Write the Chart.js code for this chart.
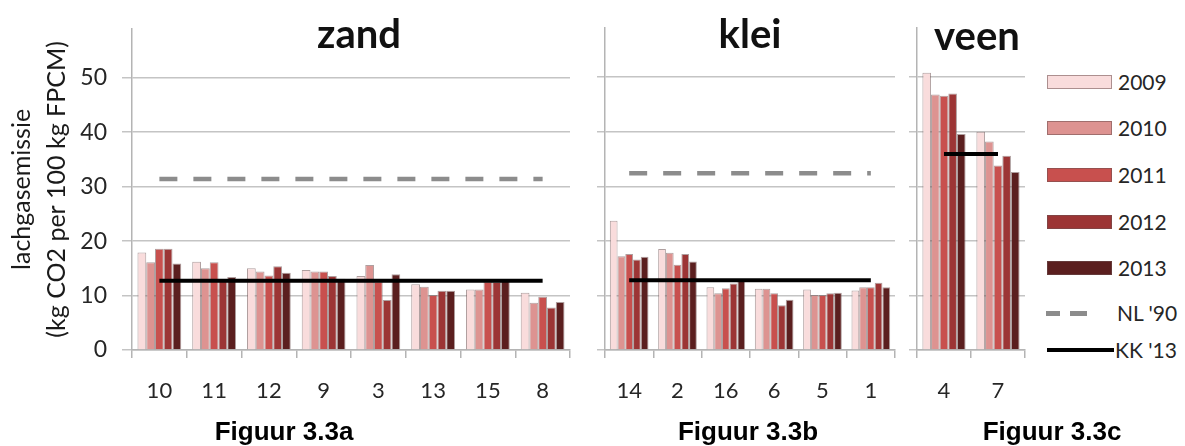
<!DOCTYPE html>
<html>
<head>
<meta charset="utf-8">
<script src="https://cdn.jsdelivr.net/npm/chart.js@4/dist/chart.umd.min.js"></script>
<style>
  html, body { margin: 0; padding: 0; background: #fff; }
  #wrap { position: relative; width: 1185px; height: 446px; overflow: hidden; font-family: Lato, "Open Sans", sans-serif; }
  canvas { position: absolute; top: 0; }
  .ttl { position: absolute; font-weight: bold; font-size: 40px; line-height: 1; color: #111; transform: translateX(-50%); white-space: nowrap; }
  .cap { position: absolute; font-family: "Liberation Sans", Arial, sans-serif; font-weight: bold; font-size: 26px; line-height: 1; color: #000; transform: translateX(-50%); white-space: nowrap; }
  .sw { position: absolute; box-sizing: border-box; }
  .lt { position: absolute; font-size: 21px; line-height: 1; color: #262626; white-space: nowrap; }
</style>
</head>
<body>
<div id="wrap">
  <canvas id="zand" width="575" height="446" style="left:0px"></canvas>
  <canvas id="klei" width="320" height="446" style="left:580px"></canvas>
  <canvas id="veen" width="135" height="446" style="left:895px"></canvas>
  <div class="ttl" style="left:359px;top:13px">zand</div>
  <div class="ttl" style="left:750px;top:13px">klei</div>
  <div class="ttl" style="left:977px;top:15px">veen</div>
  <div class="cap" style="left:284px;top:418px">Figuur 3.3a</div>
  <div class="cap" style="left:748px;top:418px">Figuur 3.3b</div>
  <div class="cap" style="left:1052px;top:418px">Figuur 3.3c</div>
  <div id="legend"></div>
</div>
<script>
// Years shown as bar series
const years = ['2009', '2010', '2011', '2012', '2013'];
const barColors = ['#f9dcdc', '#dd9391', '#c8504e', '#9c3535', '#5b1f1f'];

// Y axis ticks (shared by all three panels)
const yTickValues = [0, 10, 20, 30, 40, 50];

// Zand (sand) farms
const zandCats = ['10', '11', '12', '9', '3', '13', '15', '8'];
const zand2009 = [17.9, 16.2, 15.0, 14.7, 13.6, 12.1, 11.1, 10.5];
const zand2010 = [16.1, 15.0, 14.4, 14.4, 15.6, 11.6, 11.1, 8.7];
const zand2011 = [18.6, 16.1, 13.7, 14.4, 12.6, 10.1, 12.6, 9.8];
const zand2012 = [18.6, 13.0, 15.4, 13.6, 9.2, 10.9, 12.5, 7.8];
const zand2013 = [15.9, 13.4, 14.2, 13.1, 13.9, 10.9, 12.7, 8.8];
const zandKK = 12.7;
const zandNL = 31.4;

// Klei (clay) farms
const kleiCats = ['14', '2', '16', '6', '5', '1'];
const klei2009 = [23.7, 18.5, 11.5, 11.2, 11.1, 10.9];
const klei2010 = [17.2, 17.8, 10.4, 11.2, 10.1, 11.5];
const klei2011 = [17.6, 15.6, 11.3, 10.4, 10.1, 11.5];
const klei2012 = [16.6, 17.6, 12.2, 8.2, 10.4, 12.3];
const klei2013 = [17.1, 16.2, 12.7, 9.2, 10.5, 11.5];
const kleiKK = 12.8;
const kleiNL = 32.4;

// Veen (peat) farms
const veenCats = ['4', '7'];
const veen2009 = [50.8, 40.0];
const veen2010 = [46.8, 38.2];
const veen2011 = [46.6, 33.8];
const veen2012 = [47.0, 35.6];
const veen2013 = [39.6, 32.6];
const veenKK = 35.9;

const gridColor = '#c4c4c4';
const axisColor = '#b4b4b4';
const textColor = '#262626';
const barEdge = 'rgba(110,80,80,0.55)';
const nlColor = '#8c8c8c';
const nlDash = [18, 16];

function drawPanel(id, cats, values, kk, nl, axisWidth, withLabels) {
  const datasets = values.map((arr, i) => ({
    type: 'bar',
    label: years[i],
    data: arr,
    backgroundColor: barColors[i],
    borderColor: barEdge,
    borderWidth: 1,
    categoryPercentage: 0.8,
    barPercentage: 1.0,
    order: 3
  }));
  if (nl !== null) {
    datasets.push({
      type: 'line', label: "NL '90", data: cats.map(() => nl),
      borderColor: nlColor, borderWidth: 4.5, borderDash: nlDash,
      pointRadius: 0, fill: false, order: 1
    });
  }
  datasets.push({
    type: 'line', label: "KK '13", data: cats.map(() => kk),
    borderColor: '#000', borderWidth: 4, pointRadius: 0, fill: false, order: 0
  });

  new Chart(document.getElementById(id), {
    type: 'bar',
    data: { labels: cats, datasets },
    options: {
      responsive: false,
      animation: false,
      devicePixelRatio: 1,
      layout: { padding: { top: 28, right: 5, left: 0, bottom: 0 } },
      plugins: { legend: { display: false }, tooltip: { enabled: false } },
      scales: {
        x: {
          type: 'category',
          offset: true,
          grid: { offset: true, drawOnChartArea: false, drawTicks: true, tickLength: 8, color: axisColor, lineWidth: 1.5 },
          border: { display: true, color: axisColor, width: 1.5 },
          ticks: { font: { family: 'Lato', size: 22 }, color: textColor, padding: 20, maxRotation: 0, autoSkip: false },
          afterFit(scale) { scale.height = 96; }
        },
        y: {
          min: 0,
          max: 59,
          afterBuildTicks(scale) { scale.ticks = yTickValues.map(v => ({ value: v })); },
          grid: { color: gridColor, lineWidth: 1.5, drawTicks: true, tickLength: withLabels ? 10 : 8 },
          border: { display: true, color: axisColor, width: 1.5 },
          ticks: { display: withLabels, font: { family: 'Lato', size: 23 }, color: textColor, padding: 15 },
          title: withLabels ? {
            display: true,
            text: ['lachgasemissie', '(kg CO2 per 100 kg FPCM)'],
            font: { family: 'Lato', size: 25, lineHeight: 1.4 },
            color: '#1a1a1a',
            padding: { top: 4.5, bottom: 0 }
          } : { display: false },
          afterFit(scale) { scale.width = axisWidth; }
        }
      }
    }
  });
}

drawPanel('zand', zandCats, [zand2009, zand2010, zand2011, zand2012, zand2013], zandKK, zandNL, 132, true);
drawPanel('klei', kleiCats, [klei2009, klei2010, klei2011, klei2012, klei2013], kleiKK, kleiNL, 25, false);
drawPanel('veen', veenCats, [veen2009, veen2010, veen2011, veen2012, veen2013], veenKK, null, 22, false);

// Legend built from the series names and colours
const legend = document.getElementById('legend');
const rowCenters = [82, 128, 175, 222, 268, 313, 350];
function addText(txt, y, x) {
  const t = document.createElement('div');
  t.className = 'lt';
  t.textContent = txt;
  t.style.left = (x || 1118) + 'px';
  t.style.top = (y - 11) + 'px';
  legend.appendChild(t);
}
years.forEach((yr, i) => {
  const s = document.createElement('div');
  s.className = 'sw';
  s.style.cssText = `left:1047px;top:${rowCenters[i] - 7}px;width:65px;height:14px;background:${barColors[i]};border:1px solid ${barEdge};`;
  legend.appendChild(s);
  addText(yr, rowCenters[i]);
});
[[1046, 14], [1070, 17]].forEach(([x, w]) => {
  const d = document.createElement('div');
  d.className = 'sw';
  d.style.cssText = `left:${x}px;top:${rowCenters[5] - 2}px;width:${w}px;height:4.5px;background:${nlColor};`;
  legend.appendChild(d);
});
addText("NL '90", rowCenters[5], 1117);
const kl = document.createElement('div');
kl.className = 'sw';
kl.style.cssText = `left:1047px;top:${rowCenters[6] - 2}px;width:67px;height:4px;background:#000;`;
legend.appendChild(kl);
addText("KK '13", rowCenters[6], 1115);
</script>
</body>
</html>
